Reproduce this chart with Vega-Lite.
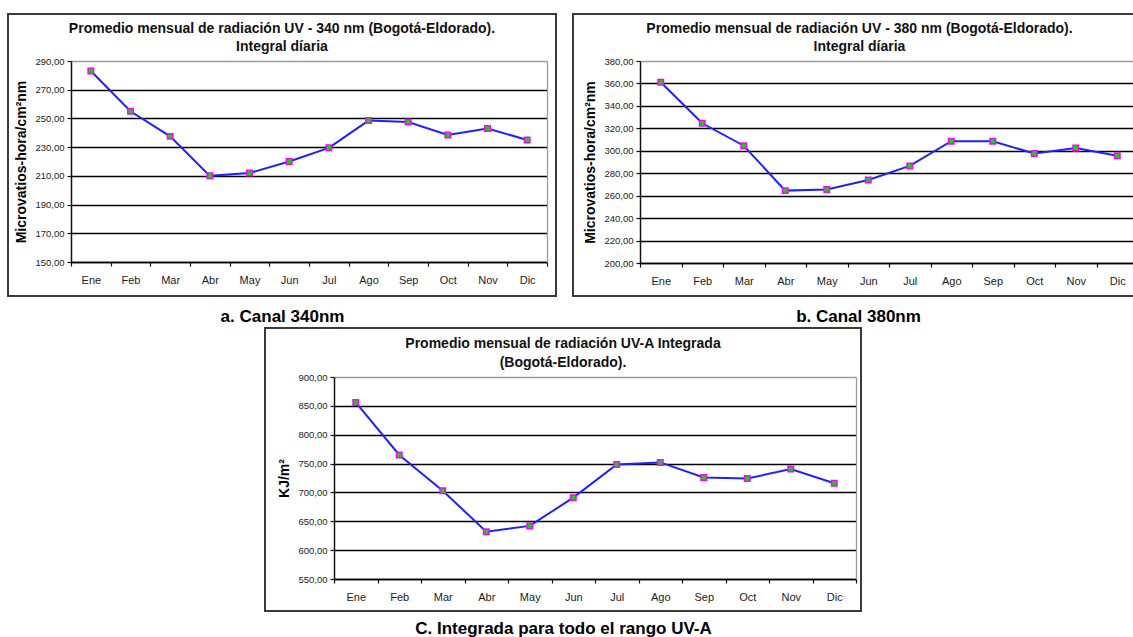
{
  "$schema": "https://vega.github.io/schema/vega-lite/v6.json",
  "padding": {"left": 7, "top": 13, "right": 0, "bottom": 0},
  "bounds": "flush",
  "spacing": 314,
  "config": {
    "font": "Liberation Sans",
    "view": {"stroke": null},
    "axis": {
      "labelFont": "Liberation Sans",
      "labelColor": "#1a1a1a",
      "domainColor": "#111111",
      "tickColor": "#111111",
      "domainWidth": 1.5,
      "tickWidth": 1.2,
      "gridWidth": 1.3,
      "titleColor": "#000000",
      "titleFont": "Liberation Sans"
    },
    "title": {"font": "Liberation Sans", "color": "#111111"}
  },
  "vconcat": [
    {
      "hconcat": [
        {
          "width": 548,
          "height": 282,
          "view": {"stroke": "#3a3a3a", "strokeWidth": 2, "fill": "white"},
          "title": {
            "text": ["Promedio mensual de radiación UV - 340 nm (Bogotá-Eldorado).", "Integral díaria"],
            "fontSize": 14,
            "fontWeight": "bold",
            "lineHeight": 18,
            "anchor": "middle",
            "frame": "group",
            "offset": -40
          },
          "data": {"values": [
            {"mes": "Ene", "v": 283}, {"mes": "Feb", "v": 255}, {"mes": "Mar", "v": 237.5},
            {"mes": "Abr", "v": 210}, {"mes": "May", "v": 212}, {"mes": "Jun", "v": 220},
            {"mes": "Jul", "v": 229.5}, {"mes": "Ago", "v": 248.5}, {"mes": "Sep", "v": 247.5},
            {"mes": "Oct", "v": 238.5}, {"mes": "Nov", "v": 243}, {"mes": "Dic", "v": 235}
          ]},
          "layer": [
            {
              "mark": {"type": "line", "color": "#1f1fff", "strokeWidth": 2},
              "encoding": {
                "x": {"field": "mes", "type": "ordinal", "sort": ["Ene","Feb","Mar","Abr","May","Jun","Jul","Ago","Sep","Oct","Nov","Dic"],
                  "scale": {"type": "band", "paddingInner": 0, "paddingOuter": 0, "range": [63, 539]},
                  "axis": {"orient": "bottom", "offset": -34, "title": "a. Canal 340nm", "titleFontSize": 17, "titleFontWeight": "bold",
                    "titleX": 274, "titleY": 59, "titleBaseline": "alphabetic", "titleAlign": "center",
                    "labelAngle": 0, "labelFontSize": 11, "labelPadding": 8, "tickBand": "extent", "tickSize": 4, "grid": false, "domainColor": "#000000"}},
                "y": {"field": "v", "type": "quantitative",
                  "scale": {"domain": [150, 290], "nice": false, "zero": false, "range": [248, 47]},
                  "axis": {"orient": "left", "offset": -63, "values": [150,170,190,210,230,250,270,290],
                    "labelExpr": "replace(format(datum.value, '.2f'), '.', ',')",
                    "labelFontSize": 9.5, "labelPadding": 3, "tickSize": 4,
                    "title": "Microvatios-hora/cm²nm", "titleFontSize": 14, "titleFontWeight": "bold",
                    "titleX": -50, "titleBaseline": "middle",
                    "grid": true, "gridColor": {"condition": {"test": "datum.value >= 290", "value": "#9a9a9a"}, "value": "#000000"}}}
              }
            },
            {
              "mark": {"type": "point", "shape": "square", "filled": true, "fill": "#00e000", "stroke": "#ff00ff", "strokeWidth": 1.5, "size": 30, "opacity": 1},
              "encoding": {
                "x": {"field": "mes", "type": "ordinal", "sort": ["Ene","Feb","Mar","Abr","May","Jun","Jul","Ago","Sep","Oct","Nov","Dic"]},
                "y": {"field": "v", "type": "quantitative",
                  "axis": {"orient": "right", "offset": -9, "labels": false, "ticks": false, "grid": false, "title": null, "domainColor": "#9a9a9a", "domainWidth": 1.3}}
              }
            }
          ]
        },
        {
          "width": 573,
          "height": 282,
          "view": {"stroke": "#3a3a3a", "strokeWidth": 2, "fill": "white"},
          "title": {
            "text": ["Promedio mensual de radiación UV - 380 nm (Bogotá-Eldorado).", "Integral díaria"],
            "fontSize": 14,
            "fontWeight": "bold",
            "lineHeight": 18,
            "anchor": "middle",
            "frame": "group",
            "offset": -40
          },
          "data": {"values": [
            {"mes": "Ene", "v": 361}, {"mes": "Feb", "v": 324.5}, {"mes": "Mar", "v": 304.5},
            {"mes": "Abr", "v": 264.5}, {"mes": "May", "v": 265.5}, {"mes": "Jun", "v": 274},
            {"mes": "Jul", "v": 286.5}, {"mes": "Ago", "v": 308.5}, {"mes": "Sep", "v": 308.5},
            {"mes": "Oct", "v": 297.5}, {"mes": "Nov", "v": 302.5}, {"mes": "Dic", "v": 295.5}
          ]},
          "layer": [
            {
              "mark": {"type": "line", "color": "#1f1fff", "strokeWidth": 2},
              "encoding": {
                "x": {"field": "mes", "type": "ordinal", "sort": ["Ene","Feb","Mar","Abr","May","Jun","Jul","Ago","Sep","Oct","Nov","Dic"],
                  "scale": {"type": "band", "paddingInner": 0, "paddingOuter": 0, "range": [67, 565]},
                  "axis": {"orient": "bottom", "offset": -33, "title": "b. Canal 380nm", "titleFontSize": 17, "titleFontWeight": "bold",
                    "titleX": 285, "titleY": 58, "titleBaseline": "alphabetic", "titleAlign": "center",
                    "labelAngle": 0, "labelFontSize": 11, "labelPadding": 8, "tickBand": "extent", "tickSize": 4, "grid": false, "domainColor": "#000000"}},
                "y": {"field": "v", "type": "quantitative",
                  "scale": {"domain": [200, 380], "nice": false, "zero": false, "range": [249, 47]},
                  "axis": {"orient": "left", "offset": -67, "values": [200,220,240,260,280,300,320,340,360,380],
                    "labelExpr": "replace(format(datum.value, '.2f'), '.', ',')",
                    "labelFontSize": 9.5, "labelPadding": 3, "tickSize": 4,
                    "title": "Microvatios-hora/cm²nm", "titleFontSize": 14, "titleFontWeight": "bold",
                    "titleX": -50, "titleBaseline": "middle",
                    "grid": true, "gridColor": {"condition": {"test": "datum.value >= 380", "value": "#9a9a9a"}, "value": "#000000"}}}
              }
            },
            {
              "mark": {"type": "point", "shape": "square", "filled": true, "fill": "#00e000", "stroke": "#ff00ff", "strokeWidth": 1.5, "size": 30, "opacity": 1},
              "encoding": {
                "x": {"field": "mes", "type": "ordinal", "sort": ["Ene","Feb","Mar","Abr","May","Jun","Jul","Ago","Sep","Oct","Nov","Dic"]},
                "y": {"field": "v", "type": "quantitative",
                  "axis": {"orient": "right", "offset": -8, "labels": false, "ticks": false, "grid": false, "title": null, "domainColor": "#9a9a9a", "domainWidth": 1.3}}
              }
            }
          ]
        }
      ],
      "spacing": 17,
      "bounds": "flush"
    },
    {
      "hconcat": [
        {
          "width": 257,
          "height": 283,
          "view": {"stroke": null},
          "data": {"values": []},
          "mark": "point"
        },
        {
          "width": 596,
          "height": 283,
          "view": {"stroke": "#3a3a3a", "strokeWidth": 2, "fill": "white"},
          "title": {
            "text": ["Promedio mensual de radiación UV-A Integrada", "(Bogotá-Eldorado)."],
            "fontSize": 14,
            "fontWeight": "bold",
            "lineHeight": 19,
            "anchor": "middle",
            "frame": "group",
            "offset": -42
          },
          "data": {"values": [
            {"mes": "Ene", "v": 856}, {"mes": "Feb", "v": 765}, {"mes": "Mar", "v": 703},
            {"mes": "Abr", "v": 632}, {"mes": "May", "v": 642}, {"mes": "Jun", "v": 691},
            {"mes": "Jul", "v": 748.5}, {"mes": "Ago", "v": 752}, {"mes": "Sep", "v": 726},
            {"mes": "Oct", "v": 724}, {"mes": "Nov", "v": 740.5}, {"mes": "Dic", "v": 716}
          ]},
          "layer": [
            {
              "mark": {"type": "line", "color": "#1f1fff", "strokeWidth": 2},
              "encoding": {
                "x": {"field": "mes", "type": "ordinal", "sort": ["Ene","Feb","Mar","Abr","May","Jun","Jul","Ago","Sep","Oct","Nov","Dic"],
                  "scale": {"type": "band", "paddingInner": 0, "paddingOuter": 0, "range": [69, 591]},
                  "axis": {"orient": "bottom", "offset": -32, "title": "C. Integrada para todo el rango UV-A", "titleFontSize": 17, "titleFontWeight": "bold",
                    "titleX": 298, "titleY": 54, "titleBaseline": "alphabetic", "titleAlign": "center",
                    "labelAngle": 0, "labelFontSize": 11, "labelPadding": 8, "tickBand": "extent", "tickSize": 4, "grid": false, "domainColor": "#000000"}},
                "y": {"field": "v", "type": "quantitative",
                  "scale": {"domain": [550, 900], "nice": false, "zero": false, "range": [251, 49]},
                  "axis": {"orient": "left", "offset": -69, "values": [550,600,650,700,750,800,850,900],
                    "labelExpr": "replace(format(datum.value, '.2f'), '.', ',')",
                    "labelFontSize": 9.5, "labelPadding": 3, "tickSize": 4,
                    "title": "KJ/m²", "titleFontSize": 14, "titleFontWeight": "bold",
                    "titleX": -50, "titleBaseline": "middle",
                    "grid": true, "gridColor": {"condition": {"test": "datum.value >= 900", "value": "#9a9a9a"}, "value": "#000000"}}}
              }
            },
            {
              "mark": {"type": "point", "shape": "square", "filled": true, "fill": "#00e000", "stroke": "#ff00ff", "strokeWidth": 1.5, "size": 30, "opacity": 1},
              "encoding": {
                "x": {"field": "mes", "type": "ordinal", "sort": ["Ene","Feb","Mar","Abr","May","Jun","Jul","Ago","Sep","Oct","Nov","Dic"]},
                "y": {"field": "v", "type": "quantitative",
                  "axis": {"orient": "right", "offset": -5, "labels": false, "ticks": false, "grid": false, "title": null, "domainColor": "#9a9a9a", "domainWidth": 1.3}}
              }
            }
          ]
        }
      ],
      "spacing": 0,
      "bounds": "flush"
    }
  ]
}
